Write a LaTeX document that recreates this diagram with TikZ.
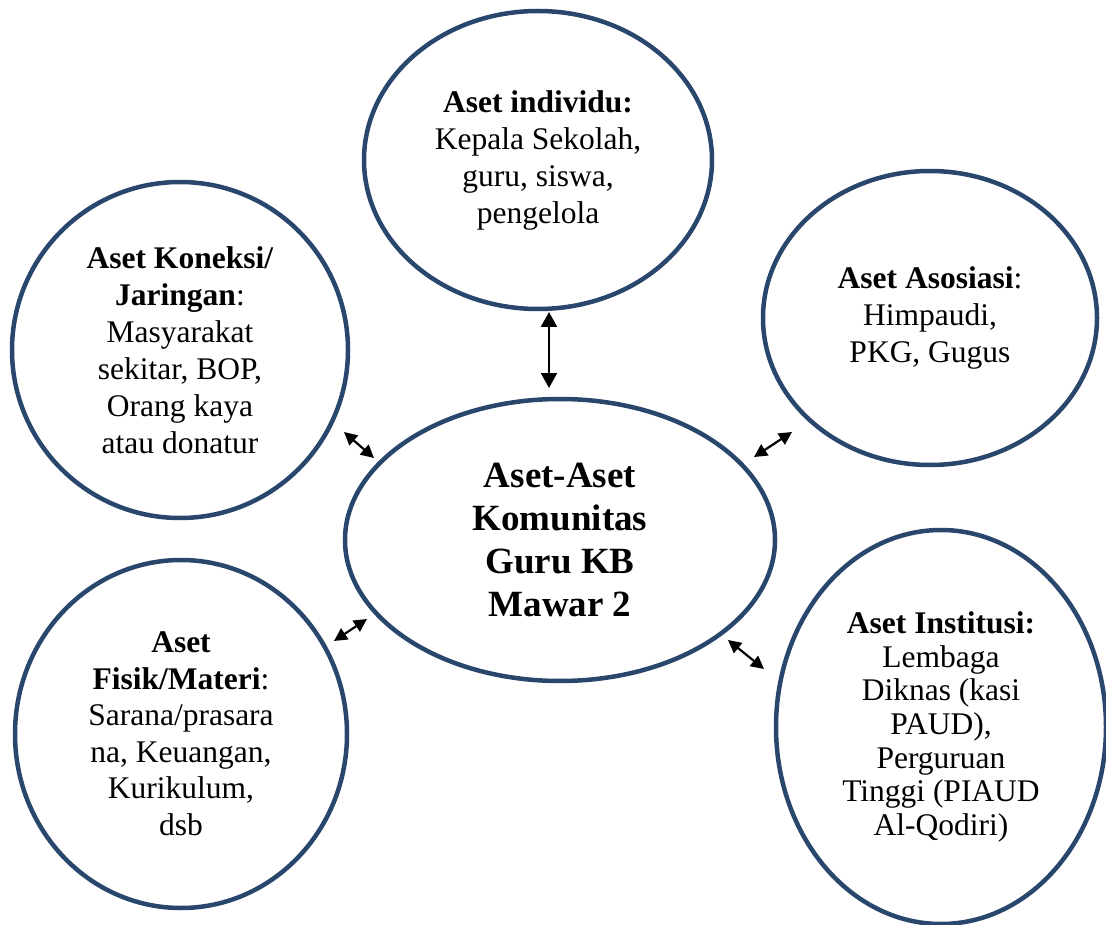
\documentclass[tikz,border=0pt]{standalone}
\usepackage{fontspec}
\setmainfont{Liberation Serif}
\usetikzlibrary{shapes.geometric,arrows.meta}
\definecolor{ringblue}{HTML}{29466C}
\tikzset{
  ring/.style={ellipse, draw=ringblue, line width=4.5pt, inner sep=0pt, align=center, text=black},
  body/.style={font=\fontsize{31.5}{37}\selectfont},
  link/.style={line width=2.2pt, {Triangle[length=13pt,width=13pt]}-{Triangle[length=13pt,width=13pt]}},
  biglink/.style={line width=2.2pt, {Triangle[length=15pt,width=16pt]}-{Triangle[length=15pt,width=16pt]}}
}
\begin{document}
\begin{tikzpicture}[x=1pt,y=-1pt]
\useasboundingbox (0,0) rectangle (1106,925);
% center
\node[ring, minimum width=430pt, minimum height=282pt, font=\fontsize{37}{43}\selectfont\bfseries] (core) at (560,540)
  {Aset-Aset\\Komunitas\\Guru KB\\Mawar 2};
% top
\node[ring, body, minimum width=348pt, minimum height=298pt] (indiv) at (538,160)
  {\textbf{Aset individu:}\\Kepala Sekolah,\\guru, siswa,\\pengelola};
% top-left
\node[ring, body, minimum width=336pt, minimum height=336pt] (koneksi) at (180,350)
  {\textbf{Aset Koneksi/}\\\textbf{Jaringan}:\\Masyarakat\\sekitar, BOP,\\Orang kaya\\atau donatur};
% top-right
\node[ring, body, minimum width=334pt, minimum height=294pt] (asosiasi) at (930,318)
  {\textbf{Aset Asosiasi}:\\Himpaudi,\\PKG, Gugus};
% bottom-left
\node[ring, font=\fontsize{31.5}{36.5}\selectfont, minimum width=332pt, minimum height=348pt] (fisik) at (181,734)
  {\textbf{Aset}\\\textbf{Fisik/Materi}:\\Sarana/prasara\\na, Keuangan,\\Kurikulum,\\dsb};
% bottom-right
\node[ring, font=\fontsize{31.5}{33.7}\selectfont, minimum width=330pt, minimum height=394pt] (institusi) at (941,727)
  {\textbf{Aset Institusi:}\\Lembaga\\Diknas (kasi\\PAUD),\\Perguruan\\Tinggi (PIAUD\\Al-Qodiri)};
% arrow ends
\coordinate (a1) at (549,312);
\coordinate (b1) at (549,388);
\coordinate (a2) at (344,432);
\coordinate (b2) at (374,458);
\coordinate (a3) at (792,432);
\coordinate (b3) at (754,457);
\coordinate (a4) at (367,619);
\coordinate (b4) at (334,641);
\coordinate (a5) at (728,640);
\coordinate (b5) at (764,669);
\draw[biglink] (a1) -- (b1);
\draw[link] (a2) -- (b2);
\draw[link] (a3) -- (b3);
\draw[link] (a4) -- (b4);
\draw[link] (a5) -- (b5);
\end{tikzpicture}
\end{document}
